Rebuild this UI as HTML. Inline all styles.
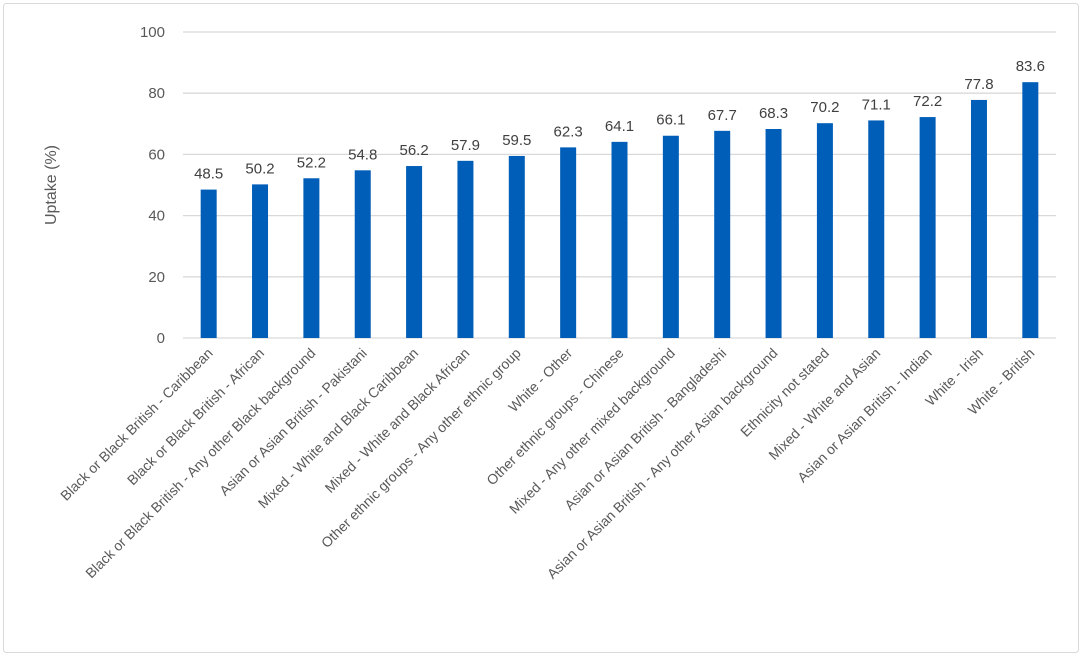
<!DOCTYPE html>
<html><head><meta charset="utf-8"><style>
body{margin:0;background:#fff;}
svg{display:block;font-family:"Liberation Sans",Arial,sans-serif;}
</style></head><body>
<svg id="chart" width="1084" height="658" viewBox="0 0 1084 658">
<rect x="3.5" y="3.5" width="1075" height="649" rx="3" fill="#fff" stroke="#d9d9d9"/>
<g id="grid"></g><g id="bars"></g><g id="labels"></g>
<text transform="translate(56,185) rotate(-90)" text-anchor="middle" font-size="16" fill="#595959">Uptake (%)</text>
</svg>
<script>
const categories=["Black or Black British - Caribbean","Black or Black British - African","Black or Black British - Any other Black background","Asian or Asian British - Pakistani","Mixed - White and Black Caribbean","Mixed - White and Black African","Other ethnic groups - Any other ethnic group","White - Other","Other ethnic groups - Chinese","Mixed - Any other mixed background","Asian or Asian British - Bangladeshi","Asian or Asian British - Any other Asian background","Ethnicity not stated","Mixed - White and Asian","Asian or Asian British - Indian","White - Irish","White - British"];
const values=[48.5,50.2,52.2,54.8,56.2,57.9,59.5,62.3,64.1,66.1,67.7,68.3,70.2,71.1,72.2,77.8,83.6];
const yTicks=[0,20,40,60,80,100];
const NS="http://www.w3.org/2000/svg";
const x0=183,x1=1056,yTop=32,yBot=338;
const step=(x1-x0)/categories.length;
const y=v=>yBot-(v/100)*(yBot-yTop);
const xc=i=>x0+step*(i+0.5);
function mk(t,a,p){const e=document.createElementNS(NS,t);for(const k in a)e.setAttribute(k,a[k]);p.appendChild(e);return e;}
const grid=document.getElementById('grid'),bars=document.getElementById('bars'),labels=document.getElementById('labels');
yTicks.forEach(t=>{
 const l=mk('line',{x1:x0,x2:x1,y1:y(t),y2:y(t),stroke:'#d9d9d9','stroke-width':1.3},grid);
 
 
 const tx=mk('text',{x:165,y:y(t)+5,'text-anchor':'end','font-size':15,fill:'#595959'},grid);
 tx.textContent=t;
 
 
});
categories.forEach((c,i)=>{
 const v=values[i];
 const r=mk('rect',{x:xc(i)-8,y:y(v),width:16,height:yBot-y(v),fill:'#005eb8'},bars);
 
 
 const vt=mk('text',{x:xc(i),y:y(v)-11,'text-anchor':'middle','font-size':15,fill:'#404040'},labels);
 vt.textContent=v.toFixed(1);
 
 
 const ct=mk('text',{transform:`translate(${xc(i)+5},${yBot+16}) rotate(-45)`,'text-anchor':'end','font-size':14,fill:'#595959'},labels);
 ct.textContent=c;
 
 
});
</script>
</body></html>
